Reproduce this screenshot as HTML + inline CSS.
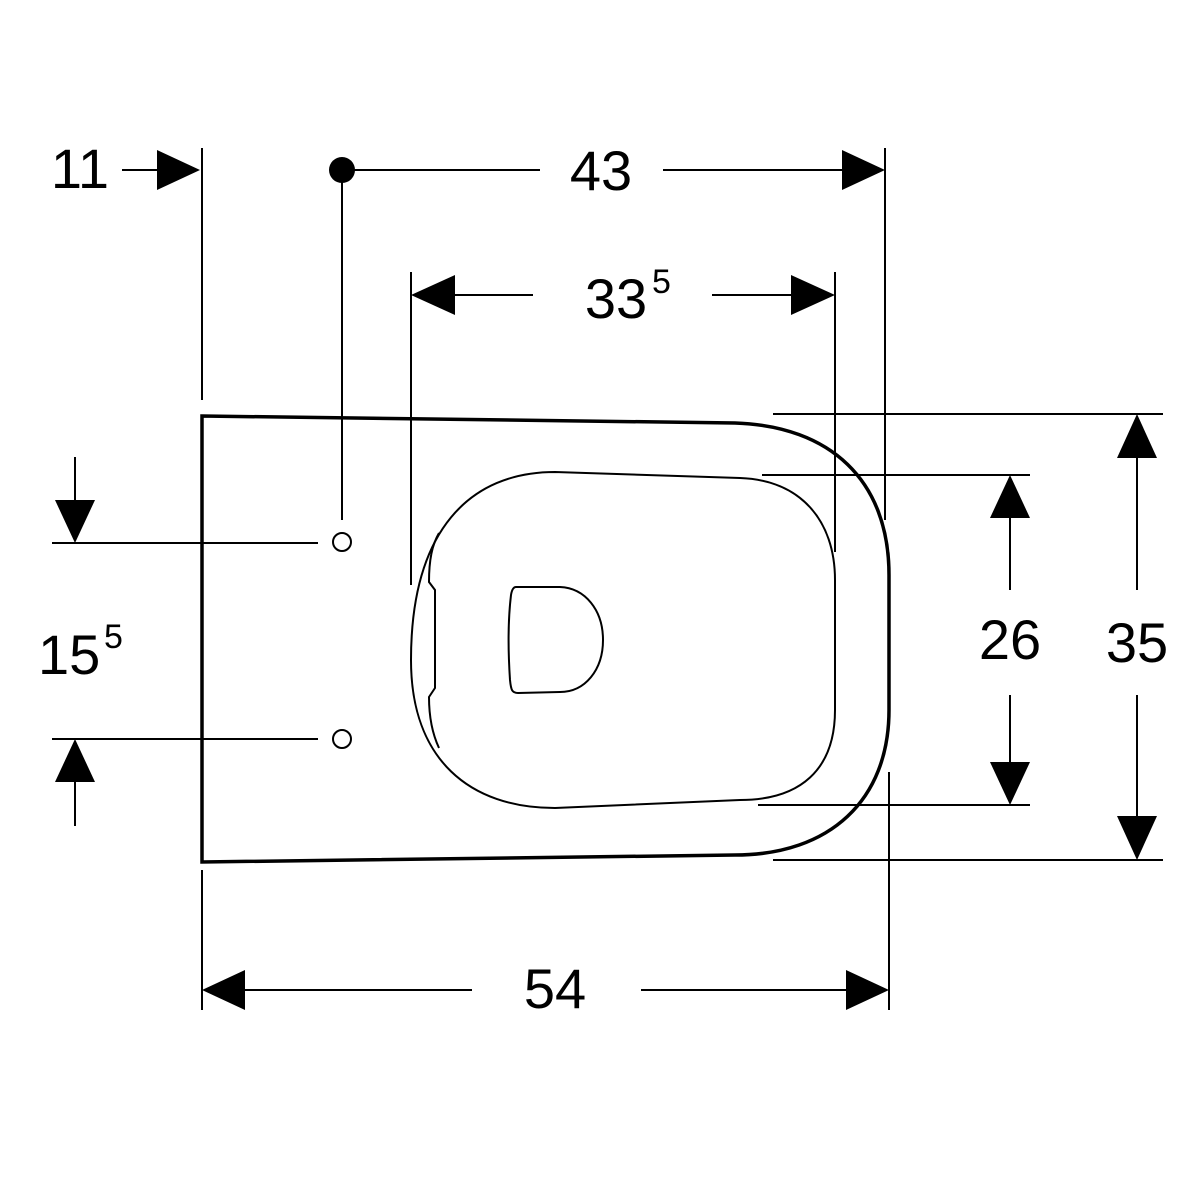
<!DOCTYPE html>
<html><head><meta charset="utf-8"><style>html,body{margin:0;background:#fff}svg{display:block}</style></head><body>
<svg width="1200" height="1200" viewBox="0 0 1200 1200" xmlns="http://www.w3.org/2000/svg">
<rect width="1200" height="1200" fill="#fff"/>
<g fill="none" stroke="#000" stroke-width="2">
<line x1="202" y1="148" x2="202" y2="400"/>
<line x1="202" y1="870" x2="202" y2="1010"/>
<line x1="885" y1="148" x2="885" y2="520"/>
<line x1="889" y1="772" x2="889" y2="1010"/>
<line x1="411" y1="272" x2="411" y2="585"/>
<line x1="835" y1="272" x2="835" y2="552"/>
<line x1="342" y1="170" x2="342" y2="520"/>
<line x1="52" y1="543" x2="318" y2="543"/>
<line x1="52" y1="739" x2="318" y2="739"/>
<line x1="762" y1="475" x2="1030" y2="475"/>
<line x1="758" y1="805" x2="1030" y2="805"/>
<line x1="773" y1="414" x2="1163" y2="414"/>
<line x1="773" y1="860" x2="1163" y2="860"/>
<line x1="122" y1="170" x2="160" y2="170"/>
<line x1="342" y1="170" x2="540" y2="170"/>
<line x1="663" y1="170" x2="845" y2="170"/>
<line x1="455" y1="295" x2="533" y2="295"/>
<line x1="712" y1="295" x2="792" y2="295"/>
<line x1="75" y1="457" x2="75" y2="502"/>
<line x1="75" y1="780" x2="75" y2="826"/>
<line x1="1010" y1="516" x2="1010" y2="590"/>
<line x1="1010" y1="695" x2="1010" y2="764"/>
<line x1="1137" y1="456" x2="1137" y2="590"/>
<line x1="1137" y1="695" x2="1137" y2="818"/>
<line x1="243" y1="990" x2="472" y2="990"/>
<line x1="641" y1="990" x2="848" y2="990"/>
<circle cx="342" cy="542" r="9"/>
<circle cx="342" cy="739" r="9"/>
<path stroke-width="3.5" d="M202 416 L735 423 C830 426 889 480 889 575 V710 C889 800 830 855 735 855 L202 862 Z"/>
<path d="M555 472 L740 478 C800 480 835 520 835 580 V710 C835 770 800 800 740 800 L555 808 C470 808 411 760 411 660 C411 530 470 472 555 472 Z"/>
<path d="M439 533 C432 545 429 560 429 582 L435 590 V688 L429 697 C429 715 432 733 439 748"/>
<path d="M516 587 H560 C585 588 603 610 603 640 C603 670 585 692 560 692 L518 693 C512 693 511 690 510 680 C508 650 508 620 511 595 C512 589 514 587 516 587 Z"/>
</g>
<g fill="#000">
<circle cx="342" cy="170" r="13"/>
<polygon points="200,170 157,150 157,190"/>
<polygon points="885,170 842,150 842,190"/>
<polygon points="411,295 455,275 455,315"/>
<polygon points="835,295 791,275 791,315"/>
<polygon points="75,543 55,500 95,500"/>
<polygon points="75,739 55,782 95,782"/>
<polygon points="1010,475 990,518 1030,518"/>
<polygon points="1010,805 990,762 1030,762"/>
<polygon points="1137,414 1117,458 1157,458"/>
<polygon points="1137,860 1117,816 1157,816"/>
<polygon points="202,990 245,970 245,1010"/>
<polygon points="889,990 846,970 846,1010"/>
</g>
<g font-family="Liberation Sans, sans-serif" font-size="56" fill="#000">
<text x="80" y="188" text-anchor="middle">11</text>
<text x="601" y="190" text-anchor="middle">43</text>
<text x="616" y="318" text-anchor="middle">33</text>
<text x="652" y="293" font-size="34">5</text>
<text x="38" y="674">15</text>
<text x="104" y="648" font-size="34">5</text>
<text x="1010" y="659" text-anchor="middle">26</text>
<text x="1137" y="662" text-anchor="middle">35</text>
<text x="555" y="1008" text-anchor="middle">54</text>
</g>
</svg>
</body></html>
